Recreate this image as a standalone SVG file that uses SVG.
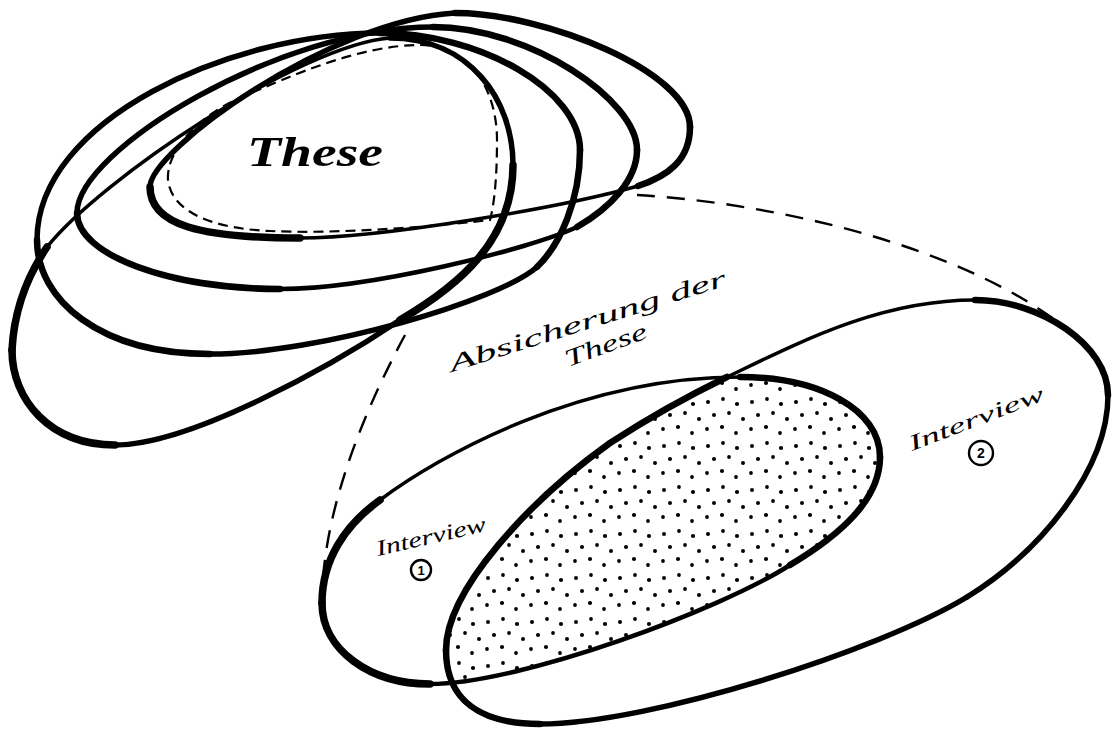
<svg xmlns="http://www.w3.org/2000/svg" width="1114" height="730" viewBox="0 0 1114 730">
<style>
  .ln{fill:none;stroke:#000;stroke-linecap:round;stroke-linejoin:round}
  .w3{stroke-width:3.5}
  .w4{stroke-width:4.5}
  .w5{stroke-width:5.5}
  .w6{stroke-width:6.5}
  .w7{stroke-width:7.5}
  .dash{fill:none;stroke:#000;stroke-width:2.4;stroke-dasharray:18 12}
  .dashin{fill:none;stroke:#000;stroke-width:2.2;stroke-dasharray:10 6}
  .hand{font-family:"Liberation Serif","DejaVu Serif",serif;font-style:italic;fill:#000}
  .num{font-family:"Liberation Sans",Arial,sans-serif;font-weight:bold;fill:#000;text-anchor:middle}
  .ring{fill:none;stroke:#000;stroke-width:2.4}
</style>
<defs>
  <pattern id="dots" width="44" height="44" patternUnits="userSpaceOnUse">
    <circle cx="4" cy="6" r="2"/>
    <circle cx="19" cy="3" r="1.9"/>
    <circle cx="33" cy="8" r="2.1"/>
    <circle cx="10" cy="19" r="2"/>
    <circle cx="25" cy="17" r="1.9"/>
    <circle cx="39" cy="23" r="2"/>
    <circle cx="3" cy="33" r="1.9"/>
    <circle cx="18" cy="31" r="2.1"/>
    <circle cx="32" cy="37" r="1.9"/>
  </pattern>
  <clipPath id="clipI1">
    <path d="M322,603 C322,560 345,525 380,500 C440,455 580,377 740,377 C820,377 880,410 880,457 C880,500 840,535 790,565 C720,610 520,684 430,684 C370,684 322,650 322,603 Z"/>
  </clipPath>
</defs>
<rect width="1114" height="730" fill="#fff"/>

<g id="connectors">
  <path class="dash" d="M405,335 C370,400 325,500 322,595"/>
  <path class="dash" d="M637,195 C760,202 950,240 1062,325"/>
</g>

<g id="thesis-loops">
  <g id="loop-1">
    <path class="ln w5" d="M150,187 C150,150 330,20 455,13"/>
    <path class="ln w6" d="M455,13 C545,13 690,72 690,127"/>
    <path class="ln w6" d="M690,127 C690,160 668,176 638,186"/>
    <path class="ln w3" d="M638,186 C560,208 380,238 300,238"/>
    <path class="ln w7" d="M300,238 C200,238 150,225 150,187"/>
  </g>
  <g id="loop-2">
    <path class="ln w5" d="M77,213 C77,150 280,27 433,27"/>
    <path class="ln w6" d="M433,27 C530,27 637,100 637,150"/>
    <path class="ln w6" d="M637,150 C637,180 610,208 577,227"/>
    <path class="ln w4" d="M577,227 C530,249 370,289 280,289"/>
    <path class="ln w6" d="M280,289 C170,289 77,255 77,213"/>
  </g>
  <g id="loop-3">
    <path class="ln w5" d="M37,240 C37,120 230,33 380,33"/>
    <path class="ln w6" d="M380,33 C480,33 580,90 580,150"/>
    <path class="ln w6" d="M580,150 C580,200 560,245 537,267"/>
    <path class="ln w5" d="M537,267 C500,300 320,354 210,354"/>
    <path class="ln w6" d="M210,354 C100,354 37,300 37,240"/>
  </g>
  <g id="loop-4">
    <path class="ln w7" d="M12,350 C14,310 28,275 47,247"/>
    <path class="ln w3" d="M47,247 C100,180 300,45 390,38"/>
    <path class="ln w5" d="M390,38 C470,38 513,100 513,165"/>
    <path class="ln w7" d="M513,165 C513,240 460,285 400,320"/>
    <path class="ln w5" d="M400,320 C330,367 190,445 115,445"/>
    <path class="ln w7" d="M115,445 C50,445 12,400 12,350"/>
  </g>
  <g id="thesis-core">
    <path class="dashin" d="M168,180 C166,150 200,115 240,98 C290,76 360,45 420,45 C470,45 497,90 497,140 C497,180 494,205 490,220 C420,228 330,234 270,231 C220,229 172,215 168,180 Z"/>
    <text class="hand" x="247" y="166" font-size="42" font-weight="bold" textLength="136" lengthAdjust="spacingAndGlyphs">These</text>
  </g>
</g>

<g id="overlap">
  <path clip-path="url(#clipI1)" fill="url(#dots)" d="M446,650 C446,590 530,500 610,443 C650,417 690,395 727,377 C800,342 880,300 975,300 C1040,300 1108,345 1108,395 C1108,470 1040,552 967,597 C880,650 650,724 540,724 C480,724 446,700 446,650 Z"/>
</g>

<g id="interview-1">
  <path class="ln w7" d="M322,603 C322,560 345,525 380,500"/>
  <path class="ln w3" d="M380,500 C440,455 580,377 740,377"/>
  <path class="ln w6" d="M740,377 C820,377 880,410 880,457"/>
  <path class="ln w6" d="M880,457 C880,500 840,535 790,565"/>
  <path class="ln w4" d="M790,565 C720,610 520,684 430,684"/>
  <path class="ln w7" d="M430,684 C370,684 322,650 322,603"/>
  <text class="hand" transform="translate(378,556) rotate(-13)" font-size="22" textLength="112" lengthAdjust="spacingAndGlyphs">Interview</text>
  <circle class="ring" cx="421" cy="570" r="10"/>
  <text class="num" x="421" y="575" font-size="13">1</text>
</g>

<g id="interview-2">
  <path class="ln w6" d="M446,650 C446,590 530,500 610,443 C650,417 690,395 727,377"/>
  <path class="ln w3" d="M727,377 C800,342 880,300 975,300"/>
  <path class="ln w6" d="M975,300 C1040,300 1108,345 1108,395"/>
  <path class="ln w5" d="M1108,395 C1108,470 1040,552 967,597"/>
  <path class="ln w5" d="M967,597 C880,650 650,724 540,724"/>
  <path class="ln w6" d="M540,724 C480,724 446,700 446,650"/>
  <text class="hand" transform="translate(912,451) rotate(-21)" font-size="22" textLength="143" lengthAdjust="spacingAndGlyphs">Interview</text>
  <circle class="ring" cx="981" cy="453" r="12"/>
  <text class="num" x="981" y="458" font-size="14">2</text>
</g>

<g id="label-absicherung">
  <text class="hand" transform="translate(452,372) rotate(-17.5)" font-size="24" textLength="289" lengthAdjust="spacingAndGlyphs">Absicherung der</text>
  <text class="hand" transform="translate(568,367) rotate(-20)" font-size="24" textLength="86" lengthAdjust="spacingAndGlyphs">These</text>
</g>
</svg>
